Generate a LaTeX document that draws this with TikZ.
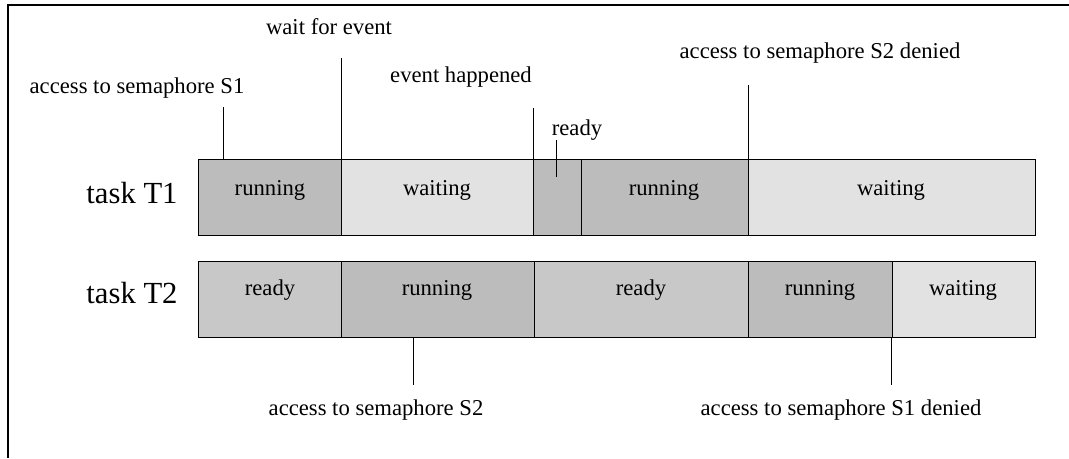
\documentclass[tikz,border=0pt]{standalone}
\usepackage{fontspec}
\setmainfont{Liberation Serif}
\usepackage{tikz}
\definecolor{runfill}{HTML}{BCBCBC}
\definecolor{readyfill}{HTML}{C8C8C8}
\definecolor{waitfill}{HTML}{E2E2E2}
\tikzset{
  lbl/.style={inner sep=0.75pt, font=\fontsize{17}{20}\selectfont},
  tasklbl/.style={inner sep=0.75pt, font=\fontsize{23}{26}\selectfont},
  seg/.style={draw=black, line width=0.75pt},
}

\begin{document}
\begin{tikzpicture}[x=0.75pt,y=0.75pt,yscale=-1,xscale=1]
    \useasboundingbox (0,0) rectangle (1069,458);

    %Frame
    \draw [line width=1.2pt] (8,458) -- (8,5) -- (1069,5) ;

    %Shape: Rectangle task T1
    \draw [seg, fill=runfill] (198,159) rectangle (341,235) ;
    \draw [seg, fill=waitfill] (341,159) rectangle (533,235) ;
    \draw [seg, fill=runfill] (533,159) rectangle (581,235) ;
    \draw [seg, fill=runfill] (581,159) rectangle (748,235) ;
    \draw [seg, fill=waitfill] (748,159) rectangle (1035,235) ;
    %Shape: Rectangle task T2
    \draw [seg, fill=readyfill] (198,261) rectangle (341,337) ;
    \draw [seg, fill=runfill] (341,261) rectangle (534,337) ;
    \draw [seg, fill=readyfill] (534,261) rectangle (748,337) ;
    \draw [seg, fill=runfill] (748,261) rectangle (892,337) ;
    \draw [seg, fill=waitfill] (892,261) rectangle (1035,337) ;

    %Coordinates of the event marks
    \coordinate (sOneTop) at (223,107) ;
    \coordinate (sOneBot) at (223,159) ;
    \coordinate (waitTop) at (341,58) ;
    \coordinate (waitBot) at (341,159) ;
    \coordinate (evTop) at (533,108) ;
    \coordinate (evBot) at (533,159) ;
    \coordinate (rdyTop) at (556,140) ;
    \coordinate (rdyBot) at (556,177) ;
    \coordinate (sTwoDTop) at (748,85) ;
    \coordinate (sTwoDBot) at (748,159) ;
    \coordinate (sTwoTop) at (413,337) ;
    \coordinate (sTwoBot) at (413,385) ;
    \coordinate (sOneDTop) at (891,337) ;
    \coordinate (sOneDBot) at (891,385) ;

    %Straight Lines
    \draw (sOneTop) -- (sOneBot) ;
    \draw (waitTop) -- (waitBot) ;
    \draw (evTop) -- (evBot) ;
    \draw (rdyTop) -- (rdyBot) ;
    \draw (sTwoDTop) -- (sTwoDBot) ;
    \draw (sTwoTop) -- (sTwoBot) ;
    \draw (sOneDTop) -- (sOneDBot) ;

    % Text Node
    \draw (132,193) node [tasklbl] (taskOne) {task T1};
    % Text Node
    \draw (132,293) node [tasklbl] (taskTwo) {task T2};
    % Text Node
    \draw (270,190) node [lbl] (oneRunA) {running};
    % Text Node
    \draw (437,190) node [lbl] (oneWaitA) {waiting};
    % Text Node
    \draw (664,190) node [lbl] (oneRunB) {running};
    % Text Node
    \draw (891,190) node [lbl] (oneWaitB) {waiting};
    % Text Node
    \draw (270,290) node [lbl] (twoRdyA) {ready};
    % Text Node
    \draw (437,290) node [lbl] (twoRunA) {running};
    % Text Node
    \draw (641,290) node [lbl] (twoRdyB) {ready};
    % Text Node
    \draw (820,290) node [lbl] (twoRunB) {running};
    % Text Node
    \draw (963,290) node [lbl] (twoWait) {waiting};
    % Text Node
    \draw (137,88) node [lbl] (sOne) {access to semaphore S1};
    % Text Node
    \draw (329,27) node [lbl] (waitEv) {wait for event};
    % Text Node
    \draw (461,77) node [lbl] (evHap) {event happened};
    % Text Node
    \draw (577,130) node [lbl] (rdyOne) {ready};
    % Text Node
    \draw (820,53) node [lbl] (sTwoD) {access to semaphore S2 denied};
    % Text Node
    \draw (376,410) node [lbl] (sTwo) {access to semaphore S2};
    % Text Node
    \draw (841,410) node [lbl] (sOneD) {access to semaphore S1 denied};
\end{tikzpicture}
\end{document}
